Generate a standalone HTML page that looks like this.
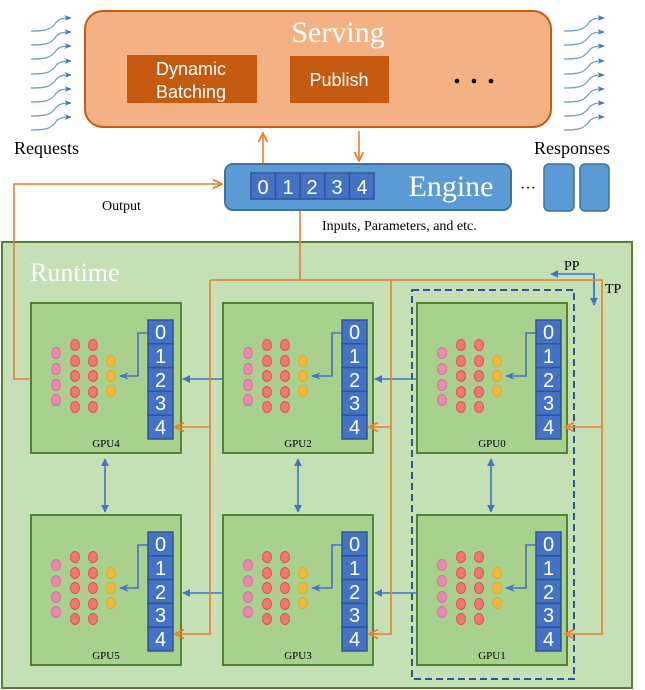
<!DOCTYPE html>
<html><head><meta charset="utf-8"><style>
html,body{margin:0;padding:0;background:#fff;}
svg{display:block;}
.s{font-family:"Liberation Serif",serif;}
.a{font-family:"Liberation Sans",sans-serif;}
</style></head><body>
<svg width="645" height="690" viewBox="0 0 645 690" xmlns="http://www.w3.org/2000/svg">
<defs>
<marker id="ob" viewBox="0 0 10 10" refX="9" refY="5" markerWidth="7" markerHeight="7" orient="auto"><path d="M1,1 L9,5 L1,9" fill="none" stroke="#ed7d31" stroke-width="1.6"/></marker>
<marker id="bb" viewBox="0 0 10 10" refX="9" refY="5" markerWidth="5" markerHeight="5" orient="auto-start-reverse"><path d="M0,0 L10,5 L0,10 z" fill="#4472c4"/></marker>
<marker id="cb" viewBox="0 0 10 10" refX="9" refY="5" markerWidth="6" markerHeight="6" orient="auto"><path d="M0,1 L10,5 L0,9 L3,5 z" fill="#4472c4"/></marker>
<g id="net">
</g>
</defs>

<!-- request arrows -->
<g fill="none" stroke="#6f9ad8" stroke-width="1.2" marker-end="url(#cb)">
<path d="M31,31 C45,31 50,30 55,24 C58,19 62,18 71,18"/>
<path d="M31,45 C45,45 50,44 55,38 C58,33 62,32 71,32"/>
<path d="M31,59 C45,59 50,58 55,52 C58,47 62,46 71,46"/>
<path d="M31,74 C45,74 50,73 55,67 C58,62 62,61 71,61"/>
<path d="M31,88 C45,88 50,87 55,81 C58,76 62,75 71,75"/>
<path d="M31,102 C45,102 50,101 55,95 C58,90 62,89 71,89"/>
<path d="M31,116 C45,116 50,115 55,109 C58,104 62,103 71,103"/>
<path d="M31,130 C45,130 50,129 55,123 C58,118 62,117 71,117"/>
<path d="M564,31 C578,31 583,30 588,24 C591,19 595,18 604,18"/>
<path d="M564,45 C578,45 583,44 588,38 C591,33 595,32 604,32"/>
<path d="M564,59 C578,59 583,58 588,52 C591,47 595,46 604,46"/>
<path d="M564,74 C578,74 583,73 588,67 C591,62 595,61 604,61"/>
<path d="M564,88 C578,88 583,87 588,81 C591,76 595,75 604,75"/>
<path d="M564,102 C578,102 583,101 588,95 C591,90 595,89 604,89"/>
<path d="M564,116 C578,116 583,115 588,109 C591,104 595,103 604,103"/>
<path d="M564,130 C578,130 583,129 588,123 C591,118 595,117 604,117"/>
</g>

<!-- Serving -->
<rect x="85" y="11" width="466" height="116" rx="18" fill="#f4b183" stroke="#c55a11" stroke-width="2"/>
<text x="338" y="42" class="s" font-size="30" fill="#fff" text-anchor="middle">Serving</text>
<rect x="127" y="55" width="130" height="48" fill="#c55a11"/>
<text x="191" y="75" class="a" font-size="18" fill="#fff" text-anchor="middle">Dynamic</text>
<text x="191" y="98" class="a" font-size="18" fill="#fff" text-anchor="middle">Batching</text>
<rect x="290" y="56" width="99" height="47" fill="#c55a11"/>
<text x="339" y="86" class="a" font-size="18" fill="#fff" text-anchor="middle">Publish</text>
<circle cx="457" cy="81" r="2.3" fill="#000"/><circle cx="474" cy="81" r="2.3" fill="#000"/><circle cx="491" cy="81" r="2.3" fill="#000"/>

<text x="14" y="154" class="s" font-size="18" fill="#000">Requests</text>
<text x="534" y="154" class="s" font-size="18" fill="#000">Responses</text>

<!-- Engine -->
<rect x="225" y="164" width="286" height="46" rx="8" fill="#5b9bd5" stroke="#41719c" stroke-width="2"/>
<g class="a" font-size="20" fill="#fff" text-anchor="middle">
<rect x="251" y="173" width="24.6" height="26" fill="#4472c4" stroke="#2f5597" stroke-width="1.5"/><text x="263" y="194">0</text>
<rect x="275.6" y="173" width="24.6" height="26" fill="#4472c4" stroke="#2f5597" stroke-width="1.5"/><text x="288" y="194">1</text>
<rect x="300.2" y="173" width="24.6" height="26" fill="#4472c4" stroke="#2f5597" stroke-width="1.5"/><text x="312" y="194">2</text>
<rect x="324.8" y="173" width="24.6" height="26" fill="#4472c4" stroke="#2f5597" stroke-width="1.5"/><text x="337" y="194">3</text>
<rect x="349.4" y="173" width="24.6" height="26" fill="#4472c4" stroke="#2f5597" stroke-width="1.5"/><text x="362" y="194">4</text>
</g>
<text x="451" y="196" class="s" font-size="30" fill="#fff" text-anchor="middle">Engine</text>
<text x="528" y="193" class="s" font-size="16" fill="#000" text-anchor="middle">···</text>
<rect x="544" y="164" width="30" height="47" rx="5" fill="#5b9bd5" stroke="#41719c" stroke-width="1.5"/>
<rect x="580" y="164" width="29" height="47" rx="5" fill="#5b9bd5" stroke="#41719c" stroke-width="1.5"/>

<line x1="263" y1="163" x2="263" y2="133" stroke="#ed7d31" stroke-width="1.6" marker-end="url(#ob)"/>
<line x1="359" y1="131" x2="359" y2="161" stroke="#ed7d31" stroke-width="1.6" marker-end="url(#ob)"/>
<text x="102" y="210" class="s" font-size="14" fill="#000">Output</text>
<text x="322" y="230" class="s" font-size="14" fill="#000">Inputs, Parameters, and etc.</text>

<!-- Runtime -->
<rect x="2" y="242" width="630" height="446" fill="#c5e0b4" stroke="#548235" stroke-width="2"/>
<text x="30" y="281" class="s" font-size="26" fill="#fff">Runtime</text>

<rect x="412" y="290" width="162" height="389" fill="none" stroke="#2f5597" stroke-width="2" stroke-dasharray="7,4"/>

<!-- PP/TP -->
<path d="M594,305 V274 H551" fill="none" stroke="#4472c4" stroke-width="1.6" marker-end="url(#bb)"/>
<line x1="594" y1="274" x2="594" y2="305" stroke="#4472c4" stroke-width="1.6" marker-end="url(#bb)"/>
<text x="564" y="270" class="s" font-size="14" fill="#000">PP</text>
<text x="605" y="293" class="s" font-size="14" fill="#000">TP</text>

<!-- GPU template via groups -->
<g id="gpus">
</g>

<!-- GPUs -->
<g class="gpu" transform="translate(31,303)">
<rect x="0" y="0" width="150" height="150" fill="#a9d18e" stroke="#548235" stroke-width="2"/>
<g stroke="#f4a09a" stroke-width="0.5" opacity="0.7"><path d="M25,50 L44,42 M25,50 L44,73 M25,66 L44,58 M25,82 L44,104 M25,97 L44,89 M44,42 L62,104 M44,104 L62,42 M44,58 L62,89 M44,89 L62,58 M44,73 L62,73 M62,58 L80,73"/></g>
<g fill="#e98ab0" stroke="#e06c9f"><ellipse cx="25" cy="50" rx="4.5" ry="5.5"/><ellipse cx="25" cy="66" rx="4.5" ry="5.5"/><ellipse cx="25" cy="82" rx="4.5" ry="5.5"/><ellipse cx="25" cy="97" rx="4.5" ry="5.5"/></g>
<g fill="#f07870" stroke="#e0524a"><ellipse cx="44" cy="42" rx="4.5" ry="5.5"/><ellipse cx="44" cy="58" rx="4.5" ry="5.5"/><ellipse cx="44" cy="73" rx="4.5" ry="5.5"/><ellipse cx="44" cy="89" rx="4.5" ry="5.5"/><ellipse cx="44" cy="104" rx="4.5" ry="5.5"/><ellipse cx="62" cy="42" rx="4.5" ry="5.5"/><ellipse cx="62" cy="58" rx="4.5" ry="5.5"/><ellipse cx="62" cy="73" rx="4.5" ry="5.5"/><ellipse cx="62" cy="89" rx="4.5" ry="5.5"/><ellipse cx="62" cy="104" rx="4.5" ry="5.5"/></g>
<g fill="#f0b93a" stroke="#deaa2a"><ellipse cx="80" cy="58" rx="4.5" ry="5.5"/><ellipse cx="80" cy="73" rx="4.5" ry="5.5"/><ellipse cx="80" cy="88" rx="4.5" ry="5.5"/></g>
<path d="M117,30 H107 V73 H89" fill="none" stroke="#4472c4" stroke-width="1.6" marker-end="url(#cb)"/>
<g class="a" font-size="20" fill="#fff" text-anchor="middle" stroke="#2f5597" stroke-width="0">
<rect x="117" y="17" width="25" height="23.8" fill="#4472c4" stroke="#2f5597" stroke-width="1.5"/><text x="129.5" y="36">0</text>
<rect x="117" y="40.8" width="25" height="23.8" fill="#4472c4" stroke="#2f5597" stroke-width="1.5"/><text x="129.5" y="60">1</text>
<rect x="117" y="64.6" width="25" height="23.8" fill="#4472c4" stroke="#2f5597" stroke-width="1.5"/><text x="129.5" y="84">2</text>
<rect x="117" y="88.4" width="25" height="23.8" fill="#4472c4" stroke="#2f5597" stroke-width="1.5"/><text x="129.5" y="107">3</text>
<rect x="117" y="112.2" width="25" height="23.8" fill="#4472c4" stroke="#2f5597" stroke-width="1.5"/><text x="129.5" y="131">4</text>
</g>
<text x="75" y="144" class="s" font-size="11" fill="#000" text-anchor="middle">GPU4</text>
</g>

<g transform="translate(223,303)">
<rect x="0" y="0" width="150" height="150" fill="#a9d18e" stroke="#548235" stroke-width="2"/>
<g stroke="#f4a09a" stroke-width="0.5" opacity="0.7"><path d="M25,50 L44,42 M25,50 L44,73 M25,66 L44,58 M25,82 L44,104 M25,97 L44,89 M44,42 L62,104 M44,104 L62,42 M44,58 L62,89 M44,89 L62,58 M44,73 L62,73 M62,58 L80,73"/></g>
<g fill="#e98ab0" stroke="#e06c9f"><ellipse cx="25" cy="50" rx="4.5" ry="5.5"/><ellipse cx="25" cy="66" rx="4.5" ry="5.5"/><ellipse cx="25" cy="82" rx="4.5" ry="5.5"/><ellipse cx="25" cy="97" rx="4.5" ry="5.5"/></g>
<g fill="#f07870" stroke="#e0524a"><ellipse cx="44" cy="42" rx="4.5" ry="5.5"/><ellipse cx="44" cy="58" rx="4.5" ry="5.5"/><ellipse cx="44" cy="73" rx="4.5" ry="5.5"/><ellipse cx="44" cy="89" rx="4.5" ry="5.5"/><ellipse cx="44" cy="104" rx="4.5" ry="5.5"/><ellipse cx="62" cy="42" rx="4.5" ry="5.5"/><ellipse cx="62" cy="58" rx="4.5" ry="5.5"/><ellipse cx="62" cy="73" rx="4.5" ry="5.5"/><ellipse cx="62" cy="89" rx="4.5" ry="5.5"/><ellipse cx="62" cy="104" rx="4.5" ry="5.5"/></g>
<g fill="#f0b93a" stroke="#deaa2a"><ellipse cx="80" cy="58" rx="4.5" ry="5.5"/><ellipse cx="80" cy="73" rx="4.5" ry="5.5"/><ellipse cx="80" cy="88" rx="4.5" ry="5.5"/></g>
<path d="M119,30 H109 V73 H89" fill="none" stroke="#4472c4" stroke-width="1.6" marker-end="url(#cb)"/>
<g class="a" font-size="20" fill="#fff" text-anchor="middle">
<rect x="119" y="17" width="25" height="23.8" fill="#4472c4" stroke="#2f5597" stroke-width="1.5"/><text x="131.5" y="36">0</text>
<rect x="119" y="40.8" width="25" height="23.8" fill="#4472c4" stroke="#2f5597" stroke-width="1.5"/><text x="131.5" y="60">1</text>
<rect x="119" y="64.6" width="25" height="23.8" fill="#4472c4" stroke="#2f5597" stroke-width="1.5"/><text x="131.5" y="84">2</text>
<rect x="119" y="88.4" width="25" height="23.8" fill="#4472c4" stroke="#2f5597" stroke-width="1.5"/><text x="131.5" y="107">3</text>
<rect x="119" y="112.2" width="25" height="23.8" fill="#4472c4" stroke="#2f5597" stroke-width="1.5"/><text x="131.5" y="131">4</text>
</g>
<text x="75" y="144" class="s" font-size="11" fill="#000" text-anchor="middle">GPU2</text>
</g>

<g transform="translate(417,303)">
<rect x="0" y="0" width="150" height="150" fill="#a9d18e" stroke="#548235" stroke-width="2"/>
<g stroke="#f4a09a" stroke-width="0.5" opacity="0.7"><path d="M25,50 L44,42 M25,50 L44,73 M25,66 L44,58 M25,82 L44,104 M25,97 L44,89 M44,42 L62,104 M44,104 L62,42 M44,58 L62,89 M44,89 L62,58 M44,73 L62,73 M62,58 L80,73"/></g>
<g fill="#e98ab0" stroke="#e06c9f"><ellipse cx="25" cy="50" rx="4.5" ry="5.5"/><ellipse cx="25" cy="66" rx="4.5" ry="5.5"/><ellipse cx="25" cy="82" rx="4.5" ry="5.5"/><ellipse cx="25" cy="97" rx="4.5" ry="5.5"/></g>
<g fill="#f07870" stroke="#e0524a"><ellipse cx="44" cy="42" rx="4.5" ry="5.5"/><ellipse cx="44" cy="58" rx="4.5" ry="5.5"/><ellipse cx="44" cy="73" rx="4.5" ry="5.5"/><ellipse cx="44" cy="89" rx="4.5" ry="5.5"/><ellipse cx="44" cy="104" rx="4.5" ry="5.5"/><ellipse cx="62" cy="42" rx="4.5" ry="5.5"/><ellipse cx="62" cy="58" rx="4.5" ry="5.5"/><ellipse cx="62" cy="73" rx="4.5" ry="5.5"/><ellipse cx="62" cy="89" rx="4.5" ry="5.5"/><ellipse cx="62" cy="104" rx="4.5" ry="5.5"/></g>
<g fill="#f0b93a" stroke="#deaa2a"><ellipse cx="80" cy="58" rx="4.5" ry="5.5"/><ellipse cx="80" cy="73" rx="4.5" ry="5.5"/><ellipse cx="80" cy="88" rx="4.5" ry="5.5"/></g>
<path d="M119,30 H109 V73 H89" fill="none" stroke="#4472c4" stroke-width="1.6" marker-end="url(#cb)"/>
<g class="a" font-size="20" fill="#fff" text-anchor="middle">
<rect x="119" y="17" width="25" height="23.8" fill="#4472c4" stroke="#2f5597" stroke-width="1.5"/><text x="131.5" y="36">0</text>
<rect x="119" y="40.8" width="25" height="23.8" fill="#4472c4" stroke="#2f5597" stroke-width="1.5"/><text x="131.5" y="60">1</text>
<rect x="119" y="64.6" width="25" height="23.8" fill="#4472c4" stroke="#2f5597" stroke-width="1.5"/><text x="131.5" y="84">2</text>
<rect x="119" y="88.4" width="25" height="23.8" fill="#4472c4" stroke="#2f5597" stroke-width="1.5"/><text x="131.5" y="107">3</text>
<rect x="119" y="112.2" width="25" height="23.8" fill="#4472c4" stroke="#2f5597" stroke-width="1.5"/><text x="131.5" y="131">4</text>
</g>
<text x="75" y="144" class="s" font-size="11" fill="#000" text-anchor="middle">GPU0</text>
</g>

<g transform="translate(31,515)">
<rect x="0" y="0" width="150" height="150" fill="#a9d18e" stroke="#548235" stroke-width="2"/>
<g stroke="#f4a09a" stroke-width="0.5" opacity="0.7"><path d="M25,50 L44,42 M25,50 L44,73 M25,66 L44,58 M25,82 L44,104 M25,97 L44,89 M44,42 L62,104 M44,104 L62,42 M44,58 L62,89 M44,89 L62,58 M44,73 L62,73 M62,58 L80,73"/></g>
<g fill="#e98ab0" stroke="#e06c9f"><ellipse cx="25" cy="50" rx="4.5" ry="5.5"/><ellipse cx="25" cy="66" rx="4.5" ry="5.5"/><ellipse cx="25" cy="82" rx="4.5" ry="5.5"/><ellipse cx="25" cy="97" rx="4.5" ry="5.5"/></g>
<g fill="#f07870" stroke="#e0524a"><ellipse cx="44" cy="42" rx="4.5" ry="5.5"/><ellipse cx="44" cy="58" rx="4.5" ry="5.5"/><ellipse cx="44" cy="73" rx="4.5" ry="5.5"/><ellipse cx="44" cy="89" rx="4.5" ry="5.5"/><ellipse cx="44" cy="104" rx="4.5" ry="5.5"/><ellipse cx="62" cy="42" rx="4.5" ry="5.5"/><ellipse cx="62" cy="58" rx="4.5" ry="5.5"/><ellipse cx="62" cy="73" rx="4.5" ry="5.5"/><ellipse cx="62" cy="89" rx="4.5" ry="5.5"/><ellipse cx="62" cy="104" rx="4.5" ry="5.5"/></g>
<g fill="#f0b93a" stroke="#deaa2a"><ellipse cx="80" cy="58" rx="4.5" ry="5.5"/><ellipse cx="80" cy="73" rx="4.5" ry="5.5"/><ellipse cx="80" cy="88" rx="4.5" ry="5.5"/></g>
<path d="M117,30 H107 V73 H89" fill="none" stroke="#4472c4" stroke-width="1.6" marker-end="url(#cb)"/>
<g class="a" font-size="20" fill="#fff" text-anchor="middle">
<rect x="117" y="17" width="25" height="23.8" fill="#4472c4" stroke="#2f5597" stroke-width="1.5"/><text x="129.5" y="36">0</text>
<rect x="117" y="40.8" width="25" height="23.8" fill="#4472c4" stroke="#2f5597" stroke-width="1.5"/><text x="129.5" y="60">1</text>
<rect x="117" y="64.6" width="25" height="23.8" fill="#4472c4" stroke="#2f5597" stroke-width="1.5"/><text x="129.5" y="84">2</text>
<rect x="117" y="88.4" width="25" height="23.8" fill="#4472c4" stroke="#2f5597" stroke-width="1.5"/><text x="129.5" y="107">3</text>
<rect x="117" y="112.2" width="25" height="23.8" fill="#4472c4" stroke="#2f5597" stroke-width="1.5"/><text x="129.5" y="131">4</text>
</g>
<text x="75" y="144" class="s" font-size="11" fill="#000" text-anchor="middle">GPU5</text>
</g>

<g transform="translate(223,515)">
<rect x="0" y="0" width="150" height="150" fill="#a9d18e" stroke="#548235" stroke-width="2"/>
<g stroke="#f4a09a" stroke-width="0.5" opacity="0.7"><path d="M25,50 L44,42 M25,50 L44,73 M25,66 L44,58 M25,82 L44,104 M25,97 L44,89 M44,42 L62,104 M44,104 L62,42 M44,58 L62,89 M44,89 L62,58 M44,73 L62,73 M62,58 L80,73"/></g>
<g fill="#e98ab0" stroke="#e06c9f"><ellipse cx="25" cy="50" rx="4.5" ry="5.5"/><ellipse cx="25" cy="66" rx="4.5" ry="5.5"/><ellipse cx="25" cy="82" rx="4.5" ry="5.5"/><ellipse cx="25" cy="97" rx="4.5" ry="5.5"/></g>
<g fill="#f07870" stroke="#e0524a"><ellipse cx="44" cy="42" rx="4.5" ry="5.5"/><ellipse cx="44" cy="58" rx="4.5" ry="5.5"/><ellipse cx="44" cy="73" rx="4.5" ry="5.5"/><ellipse cx="44" cy="89" rx="4.5" ry="5.5"/><ellipse cx="44" cy="104" rx="4.5" ry="5.5"/><ellipse cx="62" cy="42" rx="4.5" ry="5.5"/><ellipse cx="62" cy="58" rx="4.5" ry="5.5"/><ellipse cx="62" cy="73" rx="4.5" ry="5.5"/><ellipse cx="62" cy="89" rx="4.5" ry="5.5"/><ellipse cx="62" cy="104" rx="4.5" ry="5.5"/></g>
<g fill="#f0b93a" stroke="#deaa2a"><ellipse cx="80" cy="58" rx="4.5" ry="5.5"/><ellipse cx="80" cy="73" rx="4.5" ry="5.5"/><ellipse cx="80" cy="88" rx="4.5" ry="5.5"/></g>
<path d="M119,30 H109 V73 H89" fill="none" stroke="#4472c4" stroke-width="1.6" marker-end="url(#cb)"/>
<g class="a" font-size="20" fill="#fff" text-anchor="middle">
<rect x="119" y="17" width="25" height="23.8" fill="#4472c4" stroke="#2f5597" stroke-width="1.5"/><text x="131.5" y="36">0</text>
<rect x="119" y="40.8" width="25" height="23.8" fill="#4472c4" stroke="#2f5597" stroke-width="1.5"/><text x="131.5" y="60">1</text>
<rect x="119" y="64.6" width="25" height="23.8" fill="#4472c4" stroke="#2f5597" stroke-width="1.5"/><text x="131.5" y="84">2</text>
<rect x="119" y="88.4" width="25" height="23.8" fill="#4472c4" stroke="#2f5597" stroke-width="1.5"/><text x="131.5" y="107">3</text>
<rect x="119" y="112.2" width="25" height="23.8" fill="#4472c4" stroke="#2f5597" stroke-width="1.5"/><text x="131.5" y="131">4</text>
</g>
<text x="75" y="144" class="s" font-size="11" fill="#000" text-anchor="middle">GPU3</text>
</g>

<g transform="translate(417,515)">
<rect x="0" y="0" width="150" height="150" fill="#a9d18e" stroke="#548235" stroke-width="2"/>
<g stroke="#f4a09a" stroke-width="0.5" opacity="0.7"><path d="M25,50 L44,42 M25,50 L44,73 M25,66 L44,58 M25,82 L44,104 M25,97 L44,89 M44,42 L62,104 M44,104 L62,42 M44,58 L62,89 M44,89 L62,58 M44,73 L62,73 M62,58 L80,73"/></g>
<g fill="#e98ab0" stroke="#e06c9f"><ellipse cx="25" cy="50" rx="4.5" ry="5.5"/><ellipse cx="25" cy="66" rx="4.5" ry="5.5"/><ellipse cx="25" cy="82" rx="4.5" ry="5.5"/><ellipse cx="25" cy="97" rx="4.5" ry="5.5"/></g>
<g fill="#f07870" stroke="#e0524a"><ellipse cx="44" cy="42" rx="4.5" ry="5.5"/><ellipse cx="44" cy="58" rx="4.5" ry="5.5"/><ellipse cx="44" cy="73" rx="4.5" ry="5.5"/><ellipse cx="44" cy="89" rx="4.5" ry="5.5"/><ellipse cx="44" cy="104" rx="4.5" ry="5.5"/><ellipse cx="62" cy="42" rx="4.5" ry="5.5"/><ellipse cx="62" cy="58" rx="4.5" ry="5.5"/><ellipse cx="62" cy="73" rx="4.5" ry="5.5"/><ellipse cx="62" cy="89" rx="4.5" ry="5.5"/><ellipse cx="62" cy="104" rx="4.5" ry="5.5"/></g>
<g fill="#f0b93a" stroke="#deaa2a"><ellipse cx="80" cy="58" rx="4.5" ry="5.5"/><ellipse cx="80" cy="73" rx="4.5" ry="5.5"/><ellipse cx="80" cy="88" rx="4.5" ry="5.5"/></g>
<path d="M119,30 H109 V73 H89" fill="none" stroke="#4472c4" stroke-width="1.6" marker-end="url(#cb)"/>
<g class="a" font-size="20" fill="#fff" text-anchor="middle">
<rect x="119" y="17" width="25" height="23.8" fill="#4472c4" stroke="#2f5597" stroke-width="1.5"/><text x="131.5" y="36">0</text>
<rect x="119" y="40.8" width="25" height="23.8" fill="#4472c4" stroke="#2f5597" stroke-width="1.5"/><text x="131.5" y="60">1</text>
<rect x="119" y="64.6" width="25" height="23.8" fill="#4472c4" stroke="#2f5597" stroke-width="1.5"/><text x="131.5" y="84">2</text>
<rect x="119" y="88.4" width="25" height="23.8" fill="#4472c4" stroke="#2f5597" stroke-width="1.5"/><text x="131.5" y="107">3</text>
<rect x="119" y="112.2" width="25" height="23.8" fill="#4472c4" stroke="#2f5597" stroke-width="1.5"/><text x="131.5" y="131">4</text>
</g>
<text x="75" y="144" class="s" font-size="11" fill="#000" text-anchor="middle">GPU1</text>
</g>

<!-- blue inter-GPU arrows -->
<g stroke="#4472c4" stroke-width="1.6" fill="none">
<line x1="223" y1="379" x2="183" y2="379" marker-end="url(#bb)"/>
<line x1="417" y1="379" x2="375" y2="379" marker-end="url(#bb)"/>
<line x1="223" y1="593" x2="183" y2="593" marker-end="url(#bb)"/>
<line x1="417" y1="593" x2="375" y2="593" marker-end="url(#bb)"/>
<line x1="105" y1="459" x2="105" y2="512" marker-start="url(#bb)" marker-end="url(#bb)"/>
<line x1="298" y1="459" x2="298" y2="512" marker-start="url(#bb)" marker-end="url(#bb)"/>
<line x1="491" y1="459" x2="491" y2="512" marker-start="url(#bb)" marker-end="url(#bb)"/>
</g>

<!-- orange connectors -->
<g stroke="#ed7d31" stroke-width="1.6" fill="none">
<path d="M31,379 H14 V184 H222" marker-end="url(#ob)"/>
<path d="M300,211 V280"/>
<path d="M210,280 H602 V427 H565" marker-end="url(#ob)"/>
<path d="M602,427 V634 H565" marker-end="url(#ob)"/>
<path d="M391,280 V427 H369" marker-end="url(#ob)"/>
<path d="M391,427 V634 H369" marker-end="url(#ob)"/>
<path d="M210,280 V427 H175" marker-end="url(#ob)"/>
<path d="M210,427 V634 H175" marker-end="url(#ob)"/>
</g>
</svg>
</body></html>
